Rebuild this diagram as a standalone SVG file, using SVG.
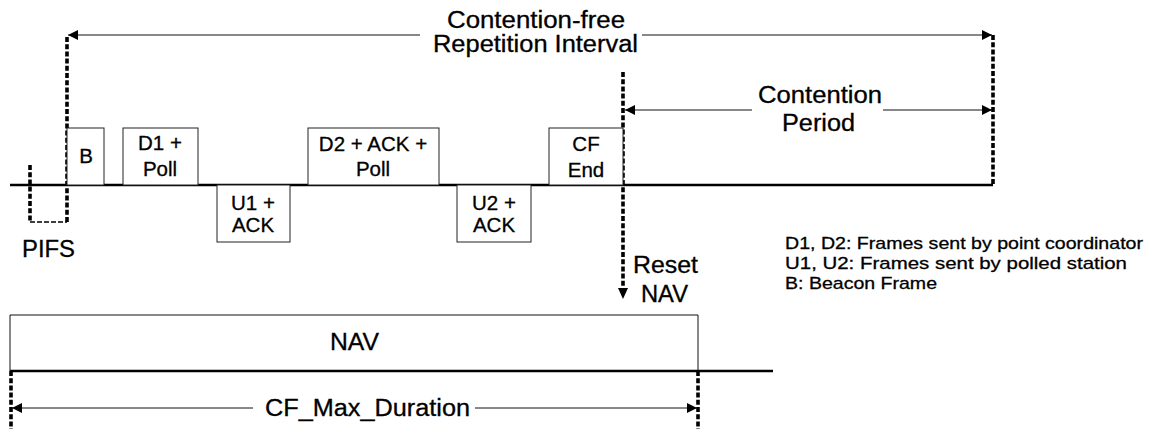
<svg xmlns="http://www.w3.org/2000/svg" width="1156" height="429" viewBox="0 0 1156 429">
<style>
text{font-family:"Liberation Sans",Arial,sans-serif;fill:#000;stroke:#000;stroke-width:0.3}
.big{font-size:23px}
.box{font-size:20.5px;text-anchor:middle}
.leg{font-size:17px}
.frame{fill:#fff;stroke:#222;stroke-width:1}
.thin{stroke:#111;stroke-width:1;fill:none}
.axis{stroke:#000;stroke-width:2.5;fill:none}
.dash{stroke:#000;stroke-width:3.6;stroke-dasharray:5 2.2;fill:none}
.dashthin{stroke:#000;stroke-width:1.6;stroke-dasharray:5 2;fill:none}
</style>
<defs>
<marker id="ah" viewBox="0 0 10 10" refX="10" refY="5" markerWidth="11" markerHeight="10" markerUnits="userSpaceOnUse" orient="auto-start-reverse">
<path d="M0,0 L10,5 L0,10 Z" fill="#000"/>
</marker>
</defs>
<rect width="1156" height="429" fill="#fff"/>

<g id="connectors">
<line class="axis" x1="10" y1="185" x2="993" y2="185"/>
<line class="thin" x1="68" y1="35" x2="420" y2="35" marker-start="url(#ah)"/>
<line class="thin" x1="642" y1="35" x2="992" y2="35" marker-end="url(#ah)"/>
<line class="thin" x1="625" y1="110" x2="752" y2="110" marker-start="url(#ah)"/>
<line class="thin" x1="883" y1="110" x2="992" y2="110" marker-end="url(#ah)"/>
<line class="dash" x1="67" y1="37" x2="67" y2="222"/>
<line class="dash" x1="993" y1="35" x2="993" y2="185"/>
<line class="dash" x1="623" y1="72" x2="623" y2="290"/>
<path d="M618,288 L628,288 L623,299 Z" fill="#000"/>
<line class="dash" x1="30" y1="165" x2="30" y2="222"/>
<line class="dashthin" x1="30" y1="222" x2="67" y2="222"/>
<line class="axis" x1="10" y1="371" x2="773" y2="371"/>
<line class="dash" x1="11" y1="371" x2="11" y2="429"/>
<line class="dash" x1="698" y1="371" x2="698" y2="429"/>
<line class="thin" x1="12" y1="408" x2="253" y2="408" marker-start="url(#ah)"/>
<line class="thin" x1="475" y1="408" x2="697" y2="408" marker-end="url(#ah)"/>
</g>

<g id="label-cfri">
<text class="big" x="447" y="28" textLength="178" lengthAdjust="spacingAndGlyphs">Contention-free</text>
<text class="big" x="433" y="52" textLength="205" lengthAdjust="spacingAndGlyphs">Repetition Interval</text>
</g>
<g id="label-cp">
<text class="big" x="758" y="103" textLength="124" lengthAdjust="spacingAndGlyphs">Contention</text>
<text class="big" x="782" y="131" textLength="73" lengthAdjust="spacingAndGlyphs">Period</text>
</g>

<g id="node-b">
<rect class="frame" x="67" y="128" width="37" height="57"/>
<text class="box" x="86" y="163">B</text>
</g>
<g id="node-d1">
<rect class="frame" x="123" y="128" width="75" height="57"/>
<text class="box" x="160" y="150">D1 +</text>
<text class="box" x="160" y="176">Poll</text>
</g>
<g id="node-u1">
<rect class="frame" x="217" y="185" width="73" height="57"/>
<text class="box" x="253" y="210">U1 +</text>
<text class="box" x="253" y="232">ACK</text>
</g>
<g id="node-d2">
<rect class="frame" x="308" y="128" width="131" height="57"/>
<text class="box" x="373" y="151">D2 + ACK +</text>
<text class="box" x="373" y="176">Poll</text>
</g>
<g id="node-u2">
<rect class="frame" x="457" y="185" width="74" height="57"/>
<text class="box" x="494" y="210">U2 +</text>
<text class="box" x="494" y="232">ACK</text>
</g>
<g id="node-cfend">
<rect class="frame" x="549" y="128" width="74" height="57"/>
<text class="box" x="586" y="151">CF</text>
<text class="box" x="586" y="177">End</text>
</g>

<g id="label-pifs">
<text class="big" x="22" y="257" textLength="53" lengthAdjust="spacingAndGlyphs">PIFS</text>
</g>
<g id="label-reset">
<text class="big" x="633" y="273" textLength="65" lengthAdjust="spacingAndGlyphs">Reset</text>
<text class="big" x="641" y="302" textLength="47" lengthAdjust="spacingAndGlyphs">NAV</text>
</g>

<g id="legend">
<text class="leg" x="785" y="249" textLength="358" lengthAdjust="spacingAndGlyphs">D1, D2: Frames sent by point coordinator</text>
<text class="leg" x="785" y="269" textLength="342" lengthAdjust="spacingAndGlyphs">U1, U2: Frames sent by polled station</text>
<text class="leg" x="785" y="289" textLength="152" lengthAdjust="spacingAndGlyphs">B: Beacon Frame</text>
</g>

<g id="node-nav">
<path class="thin" d="M10,371 L10,315 L698,315 L698,371"/>
<text class="big" x="330" y="350" textLength="49" lengthAdjust="spacingAndGlyphs">NAV</text>
</g>
<g id="label-cfmax">
<text class="big" x="265" y="416" textLength="205" lengthAdjust="spacingAndGlyphs">CF_Max_Duration</text>
</g>
</svg>
